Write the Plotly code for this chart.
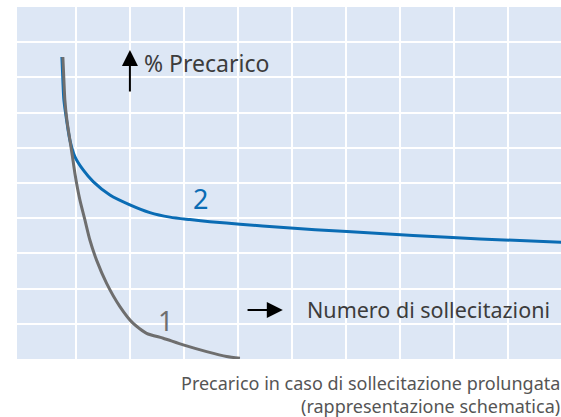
import plotly.graph_objects as go

# Curve 2 (blue)
x_curve2 = [0.741, 0.759, 0.778, 0.828, 0.889, 0.981, 1.135, 1.320, 1.630, 2.0, 2.370, 2.741, 3.111, 3.481, 4.037, 4.778, 6.019, 7.241, 8.481, 9.981]
y_curve2 = [8.58, 7.93, 7.36, 6.79, 6.22, 5.75, 5.37, 5.04, 4.66, 4.38, 4.16, 4.03, 3.96, 3.90, 3.83, 3.74, 3.62, 3.51, 3.41, 3.32]

# Curve 1 (gray)
x_curve1 = [0.759, 0.778, 0.796, 0.833, 0.889, 0.935, 0.981, 1.074, 1.167, 1.259, 1.383, 1.569, 1.815, 2.061, 2.309, 2.617, 2.987, 3.420, 3.791, 4.037]
y_curve1 = [8.58, 7.93, 7.36, 6.79, 6.22, 5.77, 5.28, 4.52, 3.95, 3.38, 2.81, 2.15, 1.49, 1.01, 0.73, 0.59, 0.40, 0.21, 0.07, 0.02]

grid_x = [1, 2, 3, 4, 5, 6, 7, 8, 9]
grid_y = [1, 2, 3, 4, 5, 6, 7, 8, 9]

BLUE = "#0a6cb4"
GRAY = "#6e6e6e"
TEXT = "#3c3c3c"
FONT = "Noto Sans"

fig = go.Figure()
fig.add_trace(go.Scatter(x=x_curve2, y=y_curve2, mode="lines",
                         line=dict(color=BLUE, width=3, shape="spline", smoothing=0.8),
                         hoverinfo="skip", showlegend=False))
fig.add_trace(go.Scatter(x=x_curve1, y=y_curve1, mode="lines",
                         line=dict(color=GRAY, width=3, shape="spline", smoothing=0.6),
                         hoverinfo="skip", showlegend=False))

ann = []
ann.append(dict(x=3.3, y=4.55, xref="x", yref="y", text="2", showarrow=False,
                font=dict(family=FONT, size=27, color=BLUE)))
ann.append(dict(x=2.65, y=1.08, xref="x", yref="y", text="1", showarrow=False,
                font=dict(family=FONT, size=27, color=GRAY)))
ann.append(dict(x=2.0, y=8.78, xref="x", yref="y", ax=2.0, ay=7.56, axref="x", ayref="y",
                text="", showarrow=True, arrowhead=2, arrowsize=1.6, arrowwidth=2, arrowcolor="black"))
ann.append(dict(x=2.22, y=8.42, xref="x", yref="y", text="% Precarico", showarrow=False,
                xanchor="left", font=dict(family=FONT, size=23, color=TEXT)))
ann.append(dict(x=4.83, y=1.39, xref="x", yref="y", ax=4.15, ay=1.39, axref="x", ayref="y",
                text="", showarrow=True, arrowhead=2, arrowsize=1.6, arrowwidth=2, arrowcolor="black"))
ann.append(dict(x=5.25, y=1.42, xref="x", yref="y", text="Numero di sollecitazioni", showarrow=False,
                xanchor="left", font=dict(family=FONT, size=21.5, color=TEXT)))
ann.append(dict(x=1.0, y=-0.068, xref="paper", yref="paper", text="Precarico in caso di sollecitazione prolungata",
                showarrow=False, xanchor="right", yanchor="middle", xshift=1,
                font=dict(family=FONT, size=18, color="#555555")))
ann.append(dict(x=1.0, y=-0.133, xref="paper", yref="paper", text="(rappresentazione schematica)",
                showarrow=False, xanchor="right", yanchor="middle", xshift=1,
                font=dict(family=FONT, size=18, color="#555555")))

fig.update_layout(
    width=561, height=417,
    margin=dict(l=17, r=0, t=7, b=58),
    paper_bgcolor="white",
    plot_bgcolor="#dde7f5",
    annotations=ann,
    xaxis=dict(range=[-0.09, 9.98], tickvals=grid_x, showticklabels=False, showgrid=True,
               gridcolor="white", gridwidth=1.5, zeroline=False, showline=False, ticks=""),
    yaxis=dict(range=[0, 10], tickvals=grid_y, showticklabels=False, showgrid=True,
               gridcolor="white", gridwidth=1.5, zeroline=False, showline=False, ticks=""),
)

fig.write_html("out.html", config={"displayModeBar": False})

with open("out.html", "r", encoding="utf-8") as f:
    html = f.read()
html = html.replace("<head>", "<head><style>html,body{margin:0;padding:0;overflow:hidden;}</style>", 1)
with open("out.html", "w", encoding="utf-8") as f:
    f.write(html)
